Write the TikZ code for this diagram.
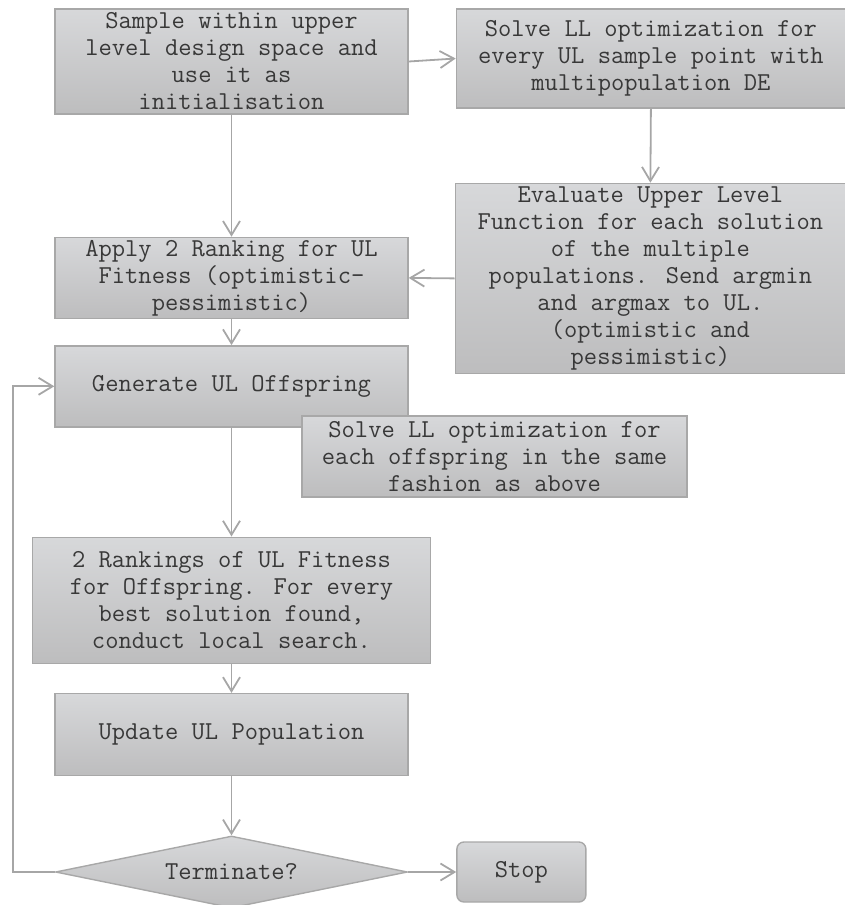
\documentclass[tikz,border=0pt]{standalone}
\usepackage{fontspec}
\usetikzlibrary{positioning,shapes.geometric,arrows.meta}

\definecolor{boxtop}{HTML}{D7D8DA}
\definecolor{boxbot}{HTML}{BDBDBE}
\definecolor{boxline}{HTML}{A8A8A8}
\definecolor{flowgray}{HTML}{A6A6A6}
\definecolor{txtgray}{HTML}{383838}

\tikzset{
  block/.style={rectangle, draw=boxline, line width=0.7pt,
    top color=boxtop, bottom color=boxbot,
    text=txtgray, align=center, inner sep=0pt,
    font=\ttfamily\fontsize{12.9pt}{13.5pt}\selectfont},
  decision/.style={block, diamond, shape aspect=4.9},
  stopbox/.style={block, rounded corners=3.5pt},
  flow/.style={draw=flowgray, line width=0.9pt,
    -{Straight Barb[length=7pt,width=8.5pt]}}
}

\begin{document}
\begin{tikzpicture}[x=0.5pt,y=-0.5pt]
\useasboundingbox (0,0) rectangle (845,905);

\node[block, minimum width=176.5pt, minimum height=52.5pt] (sample) at (231.5,61.5)
  {Sample within upper\\level design space and\\use it as\\initialisation};
\node[block, minimum width=194.5pt, minimum height=49.5pt,
  right=23.5pt of sample.north east, anchor=north west] (solvell)
  {Solve LL optimization for\\every UL sample point with\\multipopulation DE};
\node[block, minimum width=195pt, minimum height=95pt,
  below=37pt of solvell.south east, anchor=north east] (evalul)
  {Evaluate Upper Level\\Function for each solution\\of the multiple\\populations. Send argmin\\and argmax to UL.\\(optimistic and\\pessimistic)};
\node[block, minimum width=176.5pt, minimum height=40.5pt, below=61pt of sample] (rank)
  {Apply 2 Ranking for UL\\Fitness (optimistic-\\pessimistic)};
\node[block, minimum width=176.5pt, minimum height=40.5pt, below=13pt of rank] (offspring)
  {Generate UL Offspring};
\node[block, minimum width=192.5pt, minimum height=40.5pt] (solveoff) at (494.5,456.5)
  {Solve LL optimization for\\each offspring in the same\\fashion as above};
\node[block, minimum width=199pt, minimum height=63pt, below=54.5pt of offspring] (rankoff)
  {2 Rankings of UL Fitness\\for Offspring. For every\\best solution found,\\conduct local search.};
\node[block, minimum width=176.5pt, minimum height=41pt, below=14.5pt of rankoff] (update)
  {Update UL Population};
\node[decision, minimum width=176pt, minimum height=36pt, below=29.5pt of update] (term)
  {Terminate?};
\node[stopbox, minimum width=64.5pt, minimum height=30pt, right=24pt of term] (stop)
  {Stop};

% connectors
\draw[flow] (sample.east) -- (solvell.west);
\draw[flow] (solvell.south) -- (evalul.north);
\draw[flow] (evalul.west) -- (rank.east);
\draw[flow] (sample.south) -- (rank.north);
\draw[flow] (rank.south) -- (offspring.north);
\draw[flow] (offspring.south) -- (rankoff.north);
\draw[flow] (rankoff.south) -- (update.north);
\draw[flow] (update.south) -- (term.north);
\draw[flow] (term.east) -- (stop.west);
\draw[flow] (term.west) -- ++(-42,0) |- (offspring.west);

\end{tikzpicture}
\end{document}
